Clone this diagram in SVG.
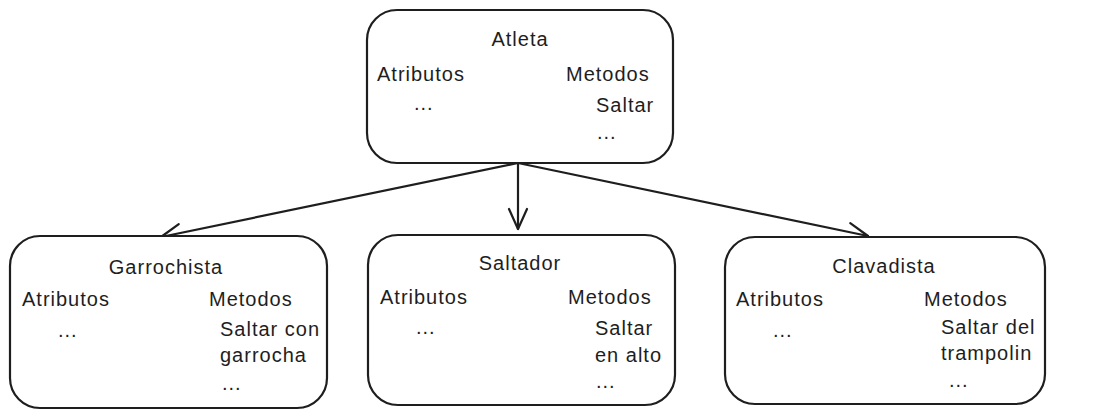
<svg xmlns="http://www.w3.org/2000/svg" width="1111" height="418" viewBox="0 0 1111 418">
<defs>
<style>
.box{fill:#fff;stroke:#1e1e1e;stroke-width:2.2}
.t{font-family:"Liberation Sans",Arial,sans-serif;font-size:20px;fill:#1e1e1e;letter-spacing:1px}
.c{text-anchor:middle}
.edge{stroke:#1e1e1e;stroke-width:2.2;fill:none;stroke-linecap:round}
</style>
<marker id="arr" viewBox="0 0 24 24" refX="22" refY="12" markerWidth="24" markerHeight="24" markerUnits="userSpaceOnUse" orient="auto">
<path d="M2,3 L22,12 L2,21" fill="none" stroke="#1e1e1e" stroke-width="2.2" stroke-linecap="round" stroke-linejoin="round"/>
</marker>
</defs>
<rect width="1111" height="418" fill="#fff"/>
<g id="connectors">
<line class="edge" x1="518" y1="163" x2="161" y2="237" marker-end="url(#arr)"/>
<line class="edge" x1="518" y1="163" x2="518" y2="229" marker-end="url(#arr)"/>
<line class="edge" x1="518" y1="163" x2="868" y2="236" marker-end="url(#arr)"/>
</g>
<g id="atleta">
<rect class="box" x="367" y="10" width="306" height="153" rx="30"/>
<text class="t c" x="520" y="46">Atleta</text>
<text class="t" x="377" y="81">Atributos</text>
<text class="t" x="566" y="81">Metodos</text>
<text class="t" x="414" y="110">...</text>
<text class="t" x="596" y="112">Saltar</text>
<text class="t" x="597" y="139">...</text>
</g>
<g id="garrochista">
<rect class="box" x="10" y="236" width="317" height="172" rx="30"/>
<text class="t c" x="166" y="274">Garrochista</text>
<text class="t" x="22" y="306">Atributos</text>
<text class="t" x="209" y="306">Metodos</text>
<text class="t" x="58" y="337">...</text>
<text class="t" x="220" y="336">Saltar con</text>
<text class="t" x="220" y="362">garrocha</text>
<text class="t" x="222" y="390">...</text>
</g>
<g id="saltador">
<rect class="box" x="368" y="235" width="307" height="170" rx="30"/>
<text class="t c" x="520" y="270">Saltador</text>
<text class="t" x="380" y="304">Atributos</text>
<text class="t" x="568" y="304">Metodos</text>
<text class="t" x="416" y="334">...</text>
<text class="t" x="595" y="335">Saltar</text>
<text class="t" x="595" y="362">en alto</text>
<text class="t" x="596" y="388">...</text>
</g>
<g id="clavadista">
<rect class="box" x="725" y="237" width="320" height="167" rx="30"/>
<text class="t c" x="884" y="273">Clavadista</text>
<text class="t" x="736" y="306">Atributos</text>
<text class="t" x="924" y="306">Metodos</text>
<text class="t" x="773" y="337">...</text>
<text class="t" x="941" y="334">Saltar del</text>
<text class="t" x="941" y="360">trampolin</text>
<text class="t" x="949" y="387">...</text>
</g>
</svg>
